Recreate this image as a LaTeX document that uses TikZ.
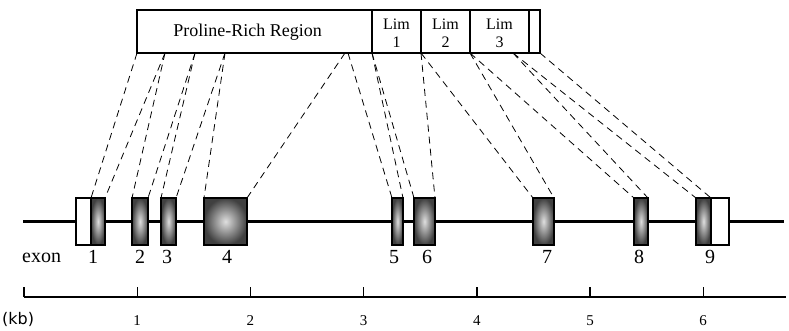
\documentclass[tikz,border=0pt]{standalone}
\usepackage{fontspec}
\setmainfont{Liberation Serif}
\newfontfamily\kbfont{DejaVu Sans}
\begin{document}
\begin{tikzpicture}[x=1pt,y=-1pt,
  seg/.style={draw,line width=2.2pt,minimum height=43pt,inner sep=0pt,outer sep=0pt},
  exon/.style={draw,line width=1.4pt,minimum height=47pt,inner sep=0pt,outer sep=0pt,
    shading=radial,inner color=gray!25,outer color=black!75},
  utr/.style={draw,line width=1.4pt,fill=white,minimum height=47pt,inner sep=0pt,outer sep=0pt},
  conn/.style={line width=0.8pt,dash pattern=on 7pt off 5pt},
  lbl/.style={inner sep=0pt,font=\fontsize{16}{18}\selectfont},
  elbl/.style={inner sep=0pt,anchor=base,font=\fontsize{20}{22}\selectfont},
  klbl/.style={inner sep=0pt,anchor=base,font=\fontsize{15}{17}\selectfont}]
\useasboundingbox (0,0) rectangle (789,331);
% protein bar
\node[seg,minimum width=235pt] (pro) at (254.5,31.5) {};
\node[seg,minimum width=49pt] (lim1) at (396.5,31.5) {};
\node[seg,minimum width=49pt] (lim2) at (445.5,31.5) {};
\node[seg,minimum width=59pt] (lim3) at (499.5,31.5) {};
\node[seg,minimum width=11pt] (tail) at (534.5,31.5) {};
\node[lbl,anchor=base,font=\fontsize{18}{20}\selectfont] (prot) at (247.5,37) {Proline-Rich Region};
\node[lbl,anchor=base] (l1a) at (396.5,30) {Lim};
\node[lbl,anchor=base] (l1b) at (396.5,48) {1};
\node[lbl,anchor=base] (l2a) at (445.5,30) {Lim};
\node[lbl,anchor=base] (l2b) at (445.5,48) {2};
\node[lbl,anchor=base] (l3a) at (499.5,30) {Lim};
\node[lbl,anchor=base] (l3b) at (499.5,48) {3};
% gene line
\coordinate (gs) at (23,221.5);
\coordinate (ge) at (784,221.5);
\draw[line width=2.2pt] (gs) -- (ge);
% exons
\node[utr,minimum width=15pt] (u1) at (83.5,221.5) {};
\node[exon,minimum width=14pt] (e1) at (98,221.5) {};
\node[exon,minimum width=16pt] (e2) at (140,221.5) {};
\node[exon,minimum width=15pt] (e3) at (168.5,221.5) {};
\node[exon,minimum width=43pt] (e4) at (225.5,221.5) {};
\node[exon,minimum width=11pt] (e5) at (397.5,221.5) {};
\node[exon,minimum width=21pt] (e6) at (424.5,221.5) {};
\node[exon,minimum width=21pt] (e7) at (543.5,221.5) {};
\node[exon,minimum width=14pt] (e8) at (641,221.5) {};
\node[exon,minimum width=15pt] (e9) at (703.5,221.5) {};
\node[utr,minimum width=18pt] (u9) at (720,221.5) {};
% connectors
\coordinate (p2) at (165,53);
\coordinate (p3) at (195,53);
\coordinate (p4) at (225,53);
\coordinate (p5) at (345,53);
\coordinate (p6) at (348,53);
\coordinate (p7) at (513,53);
\draw[conn] (pro.south west) -- (e1.north west);
\draw[conn] (p2) -- (e1.north east);
\draw[conn] (p2) -- (e2.north west);
\draw[conn] (p3) -- (e2.north east);
\draw[conn] (p3) -- (e3.north west);
\draw[conn] (p4) -- (e3.north east);
\draw[conn] (p4) -- (e4.north west);
\draw[conn] (p5) -- (e4.north east);
\draw[conn] (p6) -- (e5.north west);
\draw[conn] (pro.south east) -- (e5.north east);
\draw[conn] (pro.south east) -- (e6.north west);
\draw[conn] (lim1.south east) -- (e6.north east);
\draw[conn] (lim1.south east) -- (e7.north west);
\draw[conn] (lim2.south east) -- (e7.north east);
\draw[conn] (lim2.south east) -- (e8.north west);
\draw[conn] (p7) -- (e8.north east);
\draw[conn] (p7) -- (e9.north west);
\draw[conn] (tail.south east) -- (e9.north east);
% exon labels
\node[elbl,anchor=base west] (exl) at (22,262) {exon};
\node[elbl] (n1) at (93,263) {1};
\node[elbl] (n2) at (140,263) {2};
\node[elbl] (n3) at (167,263) {3};
\node[elbl] (n4) at (227,263) {4};
\node[elbl] (n5) at (394,263) {5};
\node[elbl] (n6) at (427,263) {6};
\node[elbl] (n7) at (547,263) {7};
\node[elbl] (n8) at (639,263) {8};
\node[elbl] (n9) at (710,263) {9};
% scale bar
\coordinate (s0) at (24,297);
\coordinate (send) at (786,297);
\draw[line width=1.4pt] (s0) -- (send);
\foreach \k in {0,...,6} {
  \coordinate (t\k) at (24+113.2*\k,297);
  \draw[line width=1.4pt] (t\k) -- ++(0,-10);
}
\node[inner sep=0pt,anchor=base west,font=\kbfont\fontsize{16}{18}\selectfont] (kb) at (2,324) {(kb)};
\foreach \k in {1,...,6} {
  \node[klbl] (k\k) at (24+113.2*\k,325) {\k};
}
\end{tikzpicture}
\end{document}
